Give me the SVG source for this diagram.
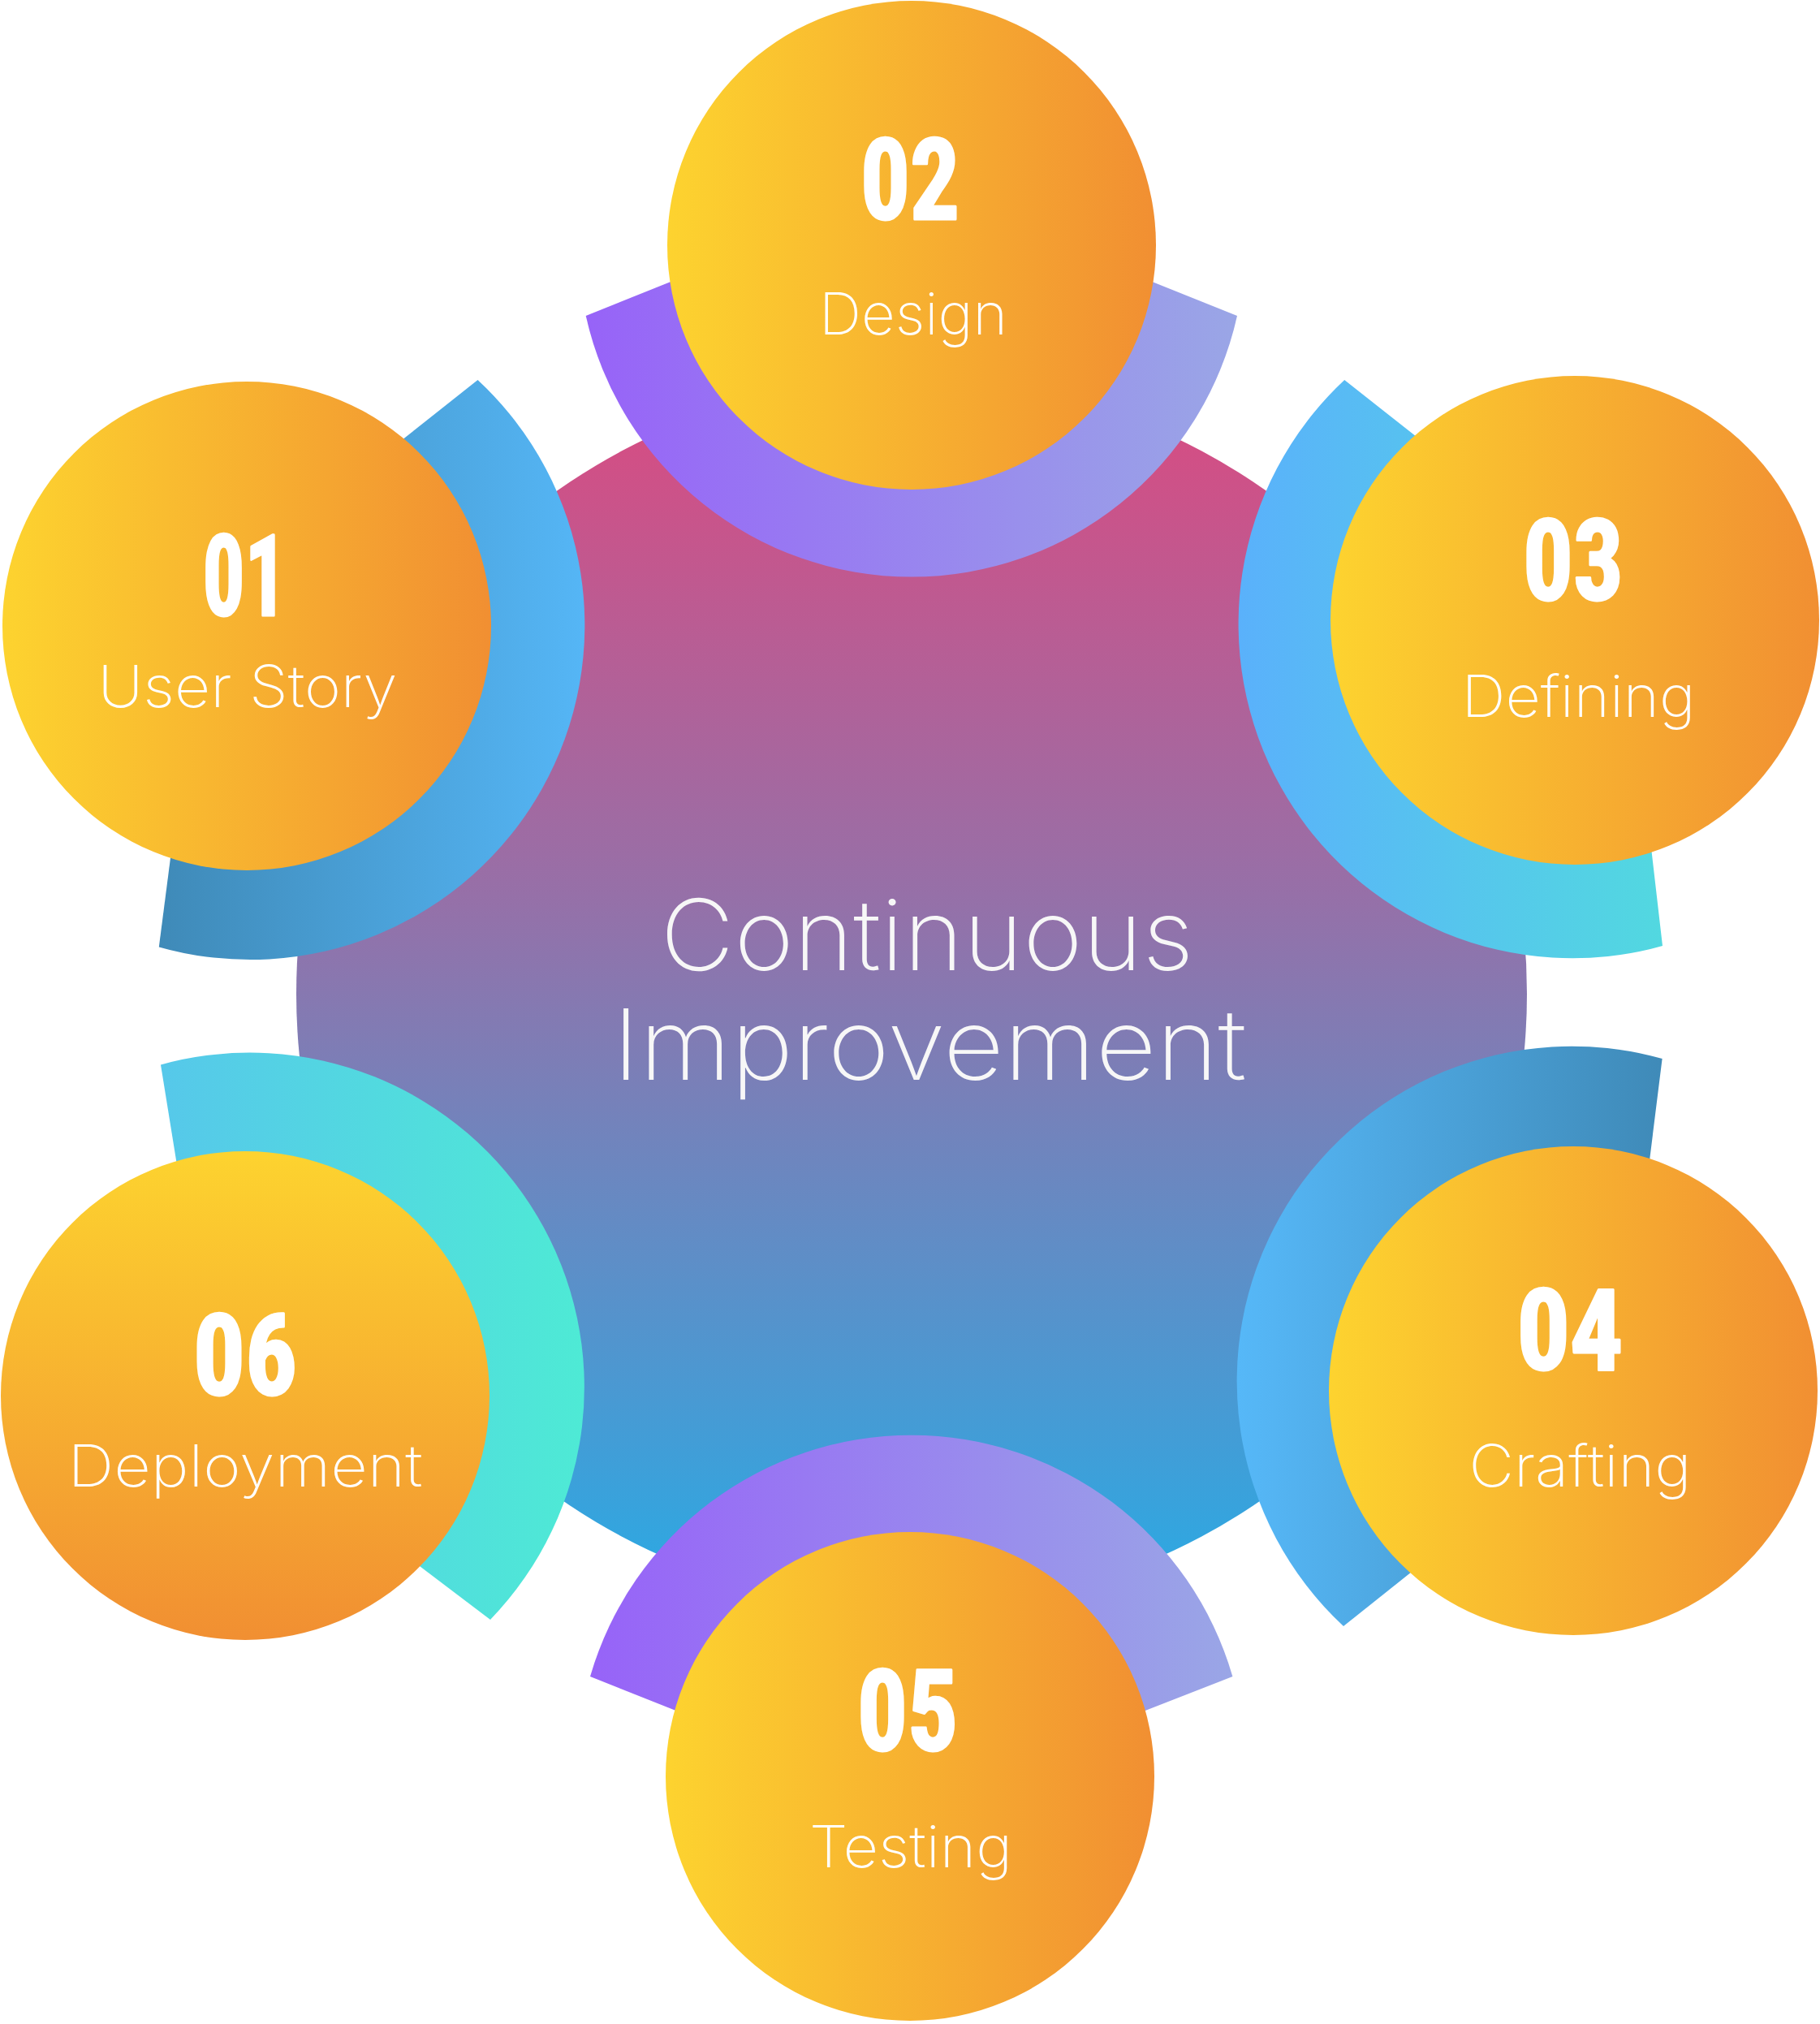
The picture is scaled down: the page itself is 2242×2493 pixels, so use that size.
<svg xmlns="http://www.w3.org/2000/svg" width="2242" height="2493" viewBox="0 0 2242 2493">
<defs>
  <linearGradient id="gCenter" gradientUnits="userSpaceOnUse" x1="0" y1="466" x2="0" y2="1982">
    <stop offset="0" stop-color="#DB4A80"/>
    <stop offset="0.42" stop-color="#9670A8"/>
    <stop offset="1" stop-color="#28ABE5"/>
  </linearGradient>
  <linearGradient id="gOrangeH" x1="0" y1="0" x2="1" y2="0">
    <stop offset="0" stop-color="#FDD32F"/>
    <stop offset="1" stop-color="#F18F32"/>
  </linearGradient>
  <linearGradient id="gOrangeV" x1="0" y1="0" x2="0" y2="1">
    <stop offset="0" stop-color="#FDD32F"/>
    <stop offset="1" stop-color="#F18F32"/>
  </linearGradient>
  <linearGradient id="gArc01" gradientUnits="userSpaceOnUse" x1="196" y1="0" x2="721" y2="0">
    <stop offset="0" stop-color="#3F8AB8"/>
    <stop offset="1" stop-color="#55B6F6"/>
  </linearGradient>
  <linearGradient id="gArc02" gradientUnits="userSpaceOnUse" x1="722" y1="0" x2="1524" y2="0">
    <stop offset="0" stop-color="#9763F8"/>
    <stop offset="1" stop-color="#9AA6E6"/>
  </linearGradient>
  <linearGradient id="gArc03" gradientUnits="userSpaceOnUse" x1="1526" y1="0" x2="2048" y2="0">
    <stop offset="0" stop-color="#5AB1FB"/>
    <stop offset="1" stop-color="#52D8E0"/>
  </linearGradient>
  <linearGradient id="gArc04" gradientUnits="userSpaceOnUse" x1="1524" y1="0" x2="2048" y2="0">
    <stop offset="0" stop-color="#56B8F8"/>
    <stop offset="1" stop-color="#3F8AB8"/>
  </linearGradient>
  <linearGradient id="gArc05" gradientUnits="userSpaceOnUse" x1="727" y1="0" x2="1519" y2="0">
    <stop offset="0" stop-color="#9763F8"/>
    <stop offset="1" stop-color="#9AA6E6"/>
  </linearGradient>
  <linearGradient id="gArc06" gradientUnits="userSpaceOnUse" x1="198" y1="0" x2="720" y2="0">
    <stop offset="0" stop-color="#56C8EA"/>
    <stop offset="1" stop-color="#4EEAD5"/>
  </linearGradient>
  <style>
    .num { font-family: "Liberation Sans Narrow", "Roboto Condensed", "DejaVu Sans Condensed", "Liberation Sans", sans-serif; font-weight: 700; font-size: 140px; fill: #FFFFFF; stroke: #FFFFFF; stroke-width: 3px; stroke-linejoin: round; text-anchor: middle; }
    .lbl { font-family: Inter, "Noto Sans", "Liberation Sans", sans-serif; font-weight: 200; font-size: 72px; fill: #FFFFFF; text-anchor: middle; }
    .title { font-family: Inter, "Noto Sans", "Liberation Sans", sans-serif; font-weight: 200; font-size: 121px; fill: #F7F7F7; text-anchor: middle; }
  </style>
</defs>

<g id="center">
  <circle cx="1123" cy="1224" r="758" fill="url(#gCenter)"/>
  <text class="title" x="1142" y="1195" textLength="657" lengthAdjust="spacingAndGlyphs">Continuous</text>
  <text class="title" x="1145" y="1330" textLength="781" lengthAdjust="spacingAndGlyphs">Improvement</text>
</g>

<g id="node-01">
  <path d="M588.5 468 A412 412 0 0 1 195.8 1166.4 L215.1 1017.3 L466.7 564.5 Z" fill="url(#gArc01)"/>
  <circle cx="304" cy="771" r="301" fill="url(#gOrangeH)"/>
  <text class="num" x="301.5" y="758" textLength="104" lengthAdjust="spacingAndGlyphs">01</text>
  <text class="lbl" x="305" y="871" textLength="369" lengthAdjust="spacingAndGlyphs">User Story</text>
</g>

<g id="node-02">
  <path d="M721.7 389 A411 411 0 0 0 1524 389 L1383.7 332.7 L861.8 332.7 Z" fill="url(#gArc02)"/>
  <circle cx="1123" cy="302" r="301" fill="url(#gOrangeH)"/>
  <text class="num" x="1121" y="270" textLength="122" lengthAdjust="spacingAndGlyphs">02</text>
  <text class="lbl" x="1125" y="412" textLength="232" lengthAdjust="spacingAndGlyphs">Design</text>
</g>

<g id="node-03">
  <path d="M1656.2 468 A411.5 411.5 0 0 0 2048 1165 L2030.2 1011.3 L1774.2 561.1 Z" fill="url(#gArc03)"/>
  <circle cx="1940" cy="764" r="301" fill="url(#gOrangeH)"/>
  <text class="num" x="1938" y="739" textLength="124" lengthAdjust="spacingAndGlyphs">03</text>
  <text class="lbl" x="1944.5" y="883" textLength="288" lengthAdjust="spacingAndGlyphs">Defining</text>
</g>

<g id="node-04">
  <path d="M2047.6 1304 A412.5 412.5 0 0 0 1655 2003 L1767.9 1913.1 L2027.5 1465.7 Z" fill="url(#gArc04)"/>
  <circle cx="1938" cy="1713" r="301" fill="url(#gOrangeH)"/>
  <text class="num" x="1934" y="1687" textLength="131" lengthAdjust="spacingAndGlyphs">04</text>
  <text class="lbl" x="1946.5" y="1831" textLength="274" lengthAdjust="spacingAndGlyphs">Crafting</text>
</g>

<g id="node-05">
  <path d="M727 2065 A412 412 0 0 1 1518.4 2065 L1373.7 2121.6 L867.2 2120.8 Z" fill="url(#gArc05)"/>
  <circle cx="1121" cy="2188" r="301" fill="url(#gOrangeH)"/>
  <text class="num" x="1118" y="2156" textLength="124" lengthAdjust="spacingAndGlyphs">05</text>
  <text class="lbl" x="1122" y="2299.5" textLength="250" lengthAdjust="spacingAndGlyphs">Testing</text>
</g>

<g id="node-06">
  <path d="M198 1311.5 A412 412 0 0 1 604 1995 L485.8 1905.3 L223.4 1468.5 Z" fill="url(#gArc06)"/>
  <circle cx="302" cy="1719" r="301" fill="url(#gOrangeV)"/>
  <text class="num" x="302" y="1717.5" textLength="128" lengthAdjust="spacingAndGlyphs">06</text>
  <text class="lbl" x="302" y="1831" textLength="437" lengthAdjust="spacingAndGlyphs">Deployment</text>
</g>
</svg>
